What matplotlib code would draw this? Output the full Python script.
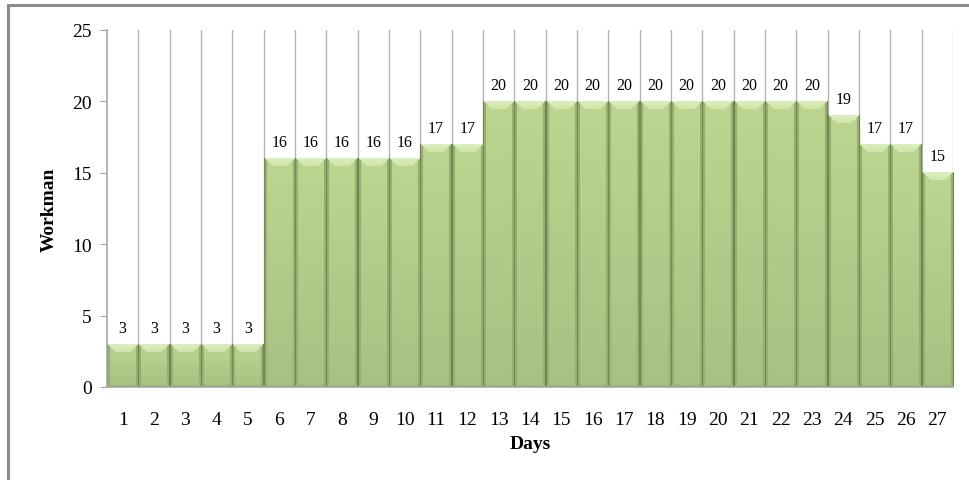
import numpy as np
import matplotlib
matplotlib.use("Agg")
import matplotlib.pyplot as plt
from matplotlib.patches import Rectangle

plt.rcParams['font.family'] = ['Liberation Serif', 'DejaVu Serif']

days = list(range(1, 28))
workers = [3, 3, 3, 3, 3, 16, 16, 16, 16, 16, 17, 17, 20, 20, 20, 20, 20, 20, 20, 20,
           20, 20, 20, 19, 17, 17, 15]
y_ticks = [0, 5, 10, 15, 20, 25]

W, H = 970, 481
fig = plt.figure(figsize=(W / 100, H / 100), dpi=100)
ax = fig.add_axes([107 / W, 1 - 388 / H, (953 - 107) / W, (388 - 31) / H])

# figure border
fig.patches.append(Rectangle((8 / W, -0.1), 1.2, 1 - 6 / H + 0.1, transform=fig.transFigure,
                             fill=False, edgecolor='#8c8c8c', linewidth=2.2, zorder=0))

ax.set_xlim(0.5, len(days) + 0.5)
ax.set_ylim(0, 25)

# vertical gridlines at bar boundaries
for b in np.arange(1.5, len(days) + 1.0, 1.0):
    ax.axvline(b, color='#b4b4b4', linewidth=1.0, zorder=1)

px_per_unit = (388 - 31) / 25.0
bar_px = (953 - 107) / len(days)


def bar_image(v):
    h = max(int(round(v * px_per_unit)), 4)
    w = int(round(bar_px))
    img = np.zeros((h, w, 3))
    top = np.array([188, 214, 145]) / 255
    bot = np.array([168, 192, 130]) / 255
    for r in range(h):
        t = r / max(h - 1, 1)
        img[r, :, :] = top * (1 - t) + bot * t
    edge = np.array([112, 133, 82]) / 255
    side = np.array([152, 175, 114]) / 255
    light = np.array([220, 238, 188]) / 255
    bev = 8
    for r in range(h):
        for c in range(w):
            dl, dr = c, w - 1 - c
            dside = min(dl, dr)
            if dside < 1:
                img[r, c] = edge
            elif r < bev and dside > r:
                img[r, c] = light * (1 - r / bev * 0.4) + img[r, c] * (r / bev * 0.4)
            elif dside < 3:
                img[r, c] = side
            elif r >= h - 2:
                img[r, c] = side
    return img


for d, v in zip(days, workers):
    ax.imshow(bar_image(v), extent=(d - 0.5, d + 0.5, 0, v), aspect='auto',
              interpolation='bilinear', zorder=2)
    ax.annotate(str(v), (d, v), xytext=(0, 6), textcoords='offset points',
                ha='center', va='bottom', fontsize=11.5, color='black', zorder=3)

ax.set_xlim(0.5, len(days) + 0.5)
ax.set_ylim(0, 25)
ax.set_xticks(days)
ax.set_xticklabels([str(d) for d in days], fontsize=14)
ax.set_yticks(y_ticks)
ax.set_yticklabels([str(t) for t in y_ticks], fontsize=14)
ax.tick_params(axis='x', length=0, pad=17)
ax.tick_params(axis='y', length=5, color='#a0a0a0', pad=6)

for s in ['top', 'right']:
    ax.spines[s].set_visible(False)
for s in ['left', 'bottom']:
    ax.spines[s].set_color('#a6a6a6')
    ax.spines[s].set_linewidth(1.2)
    ax.spines[s].set_zorder(4)

ax.set_xlabel('Days', fontsize=14, fontweight='bold', labelpad=5)
ax.set_ylabel('Workman', fontsize=14, fontweight='bold', labelpad=10)

fig.savefig('out.png', dpi=100)
